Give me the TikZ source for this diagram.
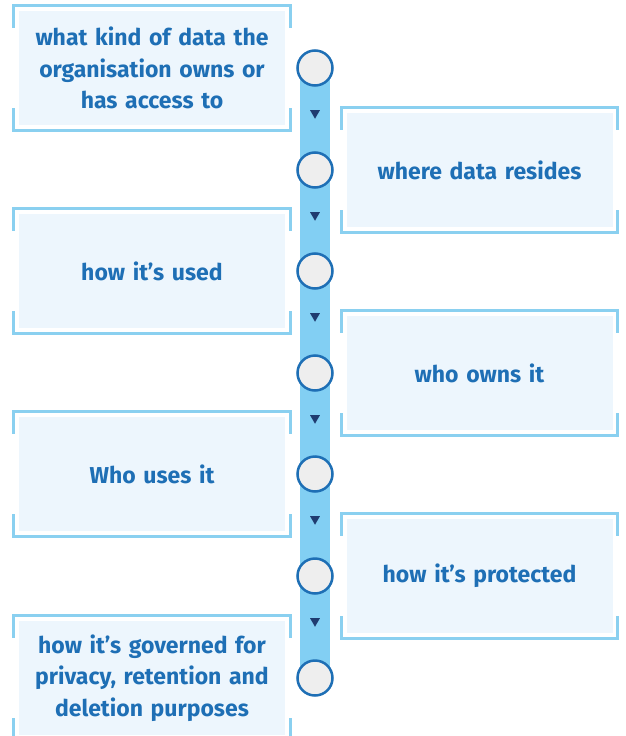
\documentclass[tikz,border=0pt]{standalone}
\usepackage{fontspec}
\setsansfont{Fira Sans}
\usetikzlibrary{calc,shapes.geometric,backgrounds}
\definecolor{itemblue}{HTML}{1E6FB5}
\definecolor{spineblue}{HTML}{82CFF3}
\definecolor{frameblue}{HTML}{8AD0F0}
\definecolor{boxfill}{HTML}{EDF6FD}
\definecolor{dotfill}{HTML}{EEEEEE}
\definecolor{tipnavy}{HTML}{1F3C70}
\tikzset{
  item/.style={fill=boxfill, text=itemblue, align=center, inner sep=0pt,
    font=\sffamily\bfseries\fontsize{23}{31.5}\selectfont,
    text width=262pt, minimum width=266pt, minimum height=114pt},
  bracket/.style={frameblue, line width=3pt},
  dot/.style={circle, draw=itemblue, fill=dotfill, line width=2.5pt,
    minimum size=35pt, inner sep=0pt},
  spine/.style={spineblue, line width=30pt},
  tip/.style={regular polygon, regular polygon sides=3, shape border rotate=180,
    fill=tipnavy, inner sep=0pt, minimum size=11.5pt}
}
\begin{document}
\begin{tikzpicture}[x=1pt,y=-1pt]
  \useasboundingbox (0,0) rectangle (625,736);
  % steps, alternating left and right of the spine
  \foreach \i/\x/\y/\txt in {
      1/152/68/{what kind of data the\\organisation owns or\\has access to},
      2/479.5/170/{where data resides},
      3/152/271/{how it’s used},
      4/479.5/373/{who owns it},
      5/152/474/{Who uses it},
      6/479.5/576/{how it’s protected},
      7/152/678/{how it’s governed for\\privacy, retention and\\deletion purposes}}{
    \node[item] (b\i) at (\x,\y) {\txt};
    \draw[bracket] ($(b\i.north west)+(-5,17)$) -- ++(0,-22) -| ($(b\i.north east)+(5,17)$);
    \draw[bracket] ($(b\i.south west)+(-5,-17)$) -- ++(0,22) -| ($(b\i.south east)+(5,-17)$);
    \node[dot] (c\i) at (315,\y) {};
  }
  \foreach \i/\y in {1/68,2/170,3/271,4/373,5/474,6/576}
    \node[tip] (t\i) at (315,\y+45) {};
  \begin{scope}[on background layer]
    \draw[spine] (c1.center) -- (c7.center);
  \end{scope}
\end{tikzpicture}
\end{document}
